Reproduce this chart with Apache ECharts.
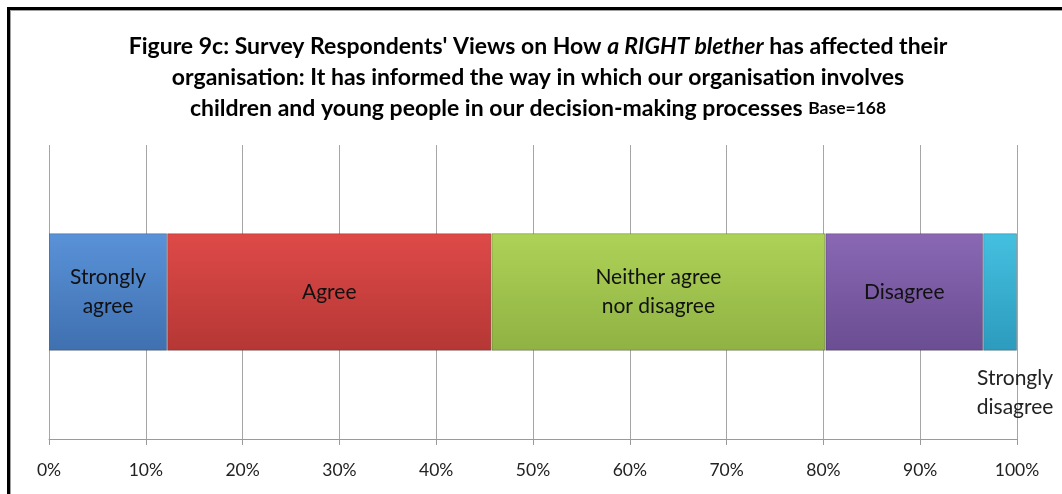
<!DOCTYPE html>
<html>
<head>
<meta charset="utf-8">
<script src="https://cdn.jsdelivr.net/npm/echarts@6/dist/echarts.min.js"></script>
<style>
    html, body { margin: 0; padding: 0; background: #fff; }
    #frame {
        position: absolute; left: 7px; top: 7px; width: 1060px; height: 500px;
        border-top: 3px solid #000; border-left: 3px solid #000;
        box-shadow: inset 1px 1px 0 #a0a0a0;
        pointer-events: none;
    }
    #chart { position: absolute; left: 0; top: 0; width: 1062px; height: 494px; }
</style>
</head>
<body>
<div id="chart"></div>
<div id="frame"></div>
<script>
// Survey response shares (% of 168 respondents)
const categories = ['Strongly agree', 'Agree', 'Neither agree nor disagree', 'Disagree', 'Strongly disagree'];
const labels = ['Strongly\nagree', 'Agree', 'Neither agree\nnor disagree', 'Disagree', 'Strongly\ndisagree'];
const shares = [12.2, 33.5, 34.5, 16.3, 3.5];
const tickValues = [0, 10, 20, 30, 40, 50, 60, 70, 80, 90, 100];

// Excel 2007 style fills: light top, darker bottom
const fills = [
    ['#5a92d8', '#3f70b0'],
    ['#de4a48', '#b53735'],
    ['#aed257', '#8fb243'],
    ['#8a68b4', '#6a4d92'],
    ['#45c0e0', '#2c9bbd']
];

const fontFamily = 'Lato, "Open Sans", sans-serif';
const chart = echarts.init(document.getElementById('chart'));

const series = shares.map((v, i) => {
    const last = i === shares.length - 1;
    return {
        name: categories[i],
        type: 'bar',
        stack: 'total',
        barWidth: '40%',
        data: [v],
        itemStyle: {
            color: {
                type: 'linear', x: 0, y: 0, x2: 0, y2: 1,
                colorStops: [
                    { offset: 0, color: fills[i][0] },
                    { offset: 1, color: fills[i][1] }
                ]
            },
            borderColor: 'rgba(0,0,0,0.25)',
            borderWidth: 1
        },
        label: {
            show: true,
            formatter: labels[i],
            position: last ? 'bottom' : 'inside',
            distance: 13,
            offset: last ? [15, 0] : [0, 0],
            color: last ? '#222' : '#111',
            fontFamily: fontFamily,
            fontSize: 21,
            lineHeight: 29,
            align: 'center'
        }
    };
});

chart.setOption({
    animation: false,
    title: {
        text: '{b|Figure 9c: Survey Respondents\' Views on How }{i|a RIGHT blether}{b| has affected their}\n' +
              '{b|organisation: It has informed the way in which our organisation involves}\n' +
              '{b|children and young people in our decision-making processes }{s|Base=168}',
        left: 533,
        textAlign: 'center',
        top: 26,
        textStyle: {
            rich: {
                b: { fontFamily: fontFamily, fontWeight: 'bold', fontSize: 23, color: '#000', lineHeight: 31 },
                i: { fontFamily: fontFamily, fontWeight: 'bold', fontStyle: 'italic', fontSize: 23, color: '#000', lineHeight: 31 },
                s: { fontFamily: fontFamily, fontWeight: 'bold', fontSize: 17.5, color: '#000', lineHeight: 31 }
            }
        }
    },
    grid: { left: 49, right: 45, top: 145, bottom: 55 },
    xAxis: {
        type: 'value',
        min: 0,
        max: 100,
        interval: 10,
        axisLine: { show: true, lineStyle: { color: '#9a9a9a', width: 1 } },
        axisTick: { show: true, length: 6, lineStyle: { color: '#9a9a9a' } },
        splitLine: { show: true, lineStyle: { color: '#a6a6a6', width: 1 } },
        axisLabel: {
            color: '#222',
            fontFamily: fontFamily,
            fontSize: 17.5,
            margin: 22,
            formatter: v => tickValues.includes(v) ? v + '%' : ''
        }
    },
    yAxis: {
        type: 'category',
        data: ['Response'],
        axisLine: { show: false },
        axisTick: { show: false },
        axisLabel: { show: false }
    },
    series: series
});
</script>
</body>
</html>
